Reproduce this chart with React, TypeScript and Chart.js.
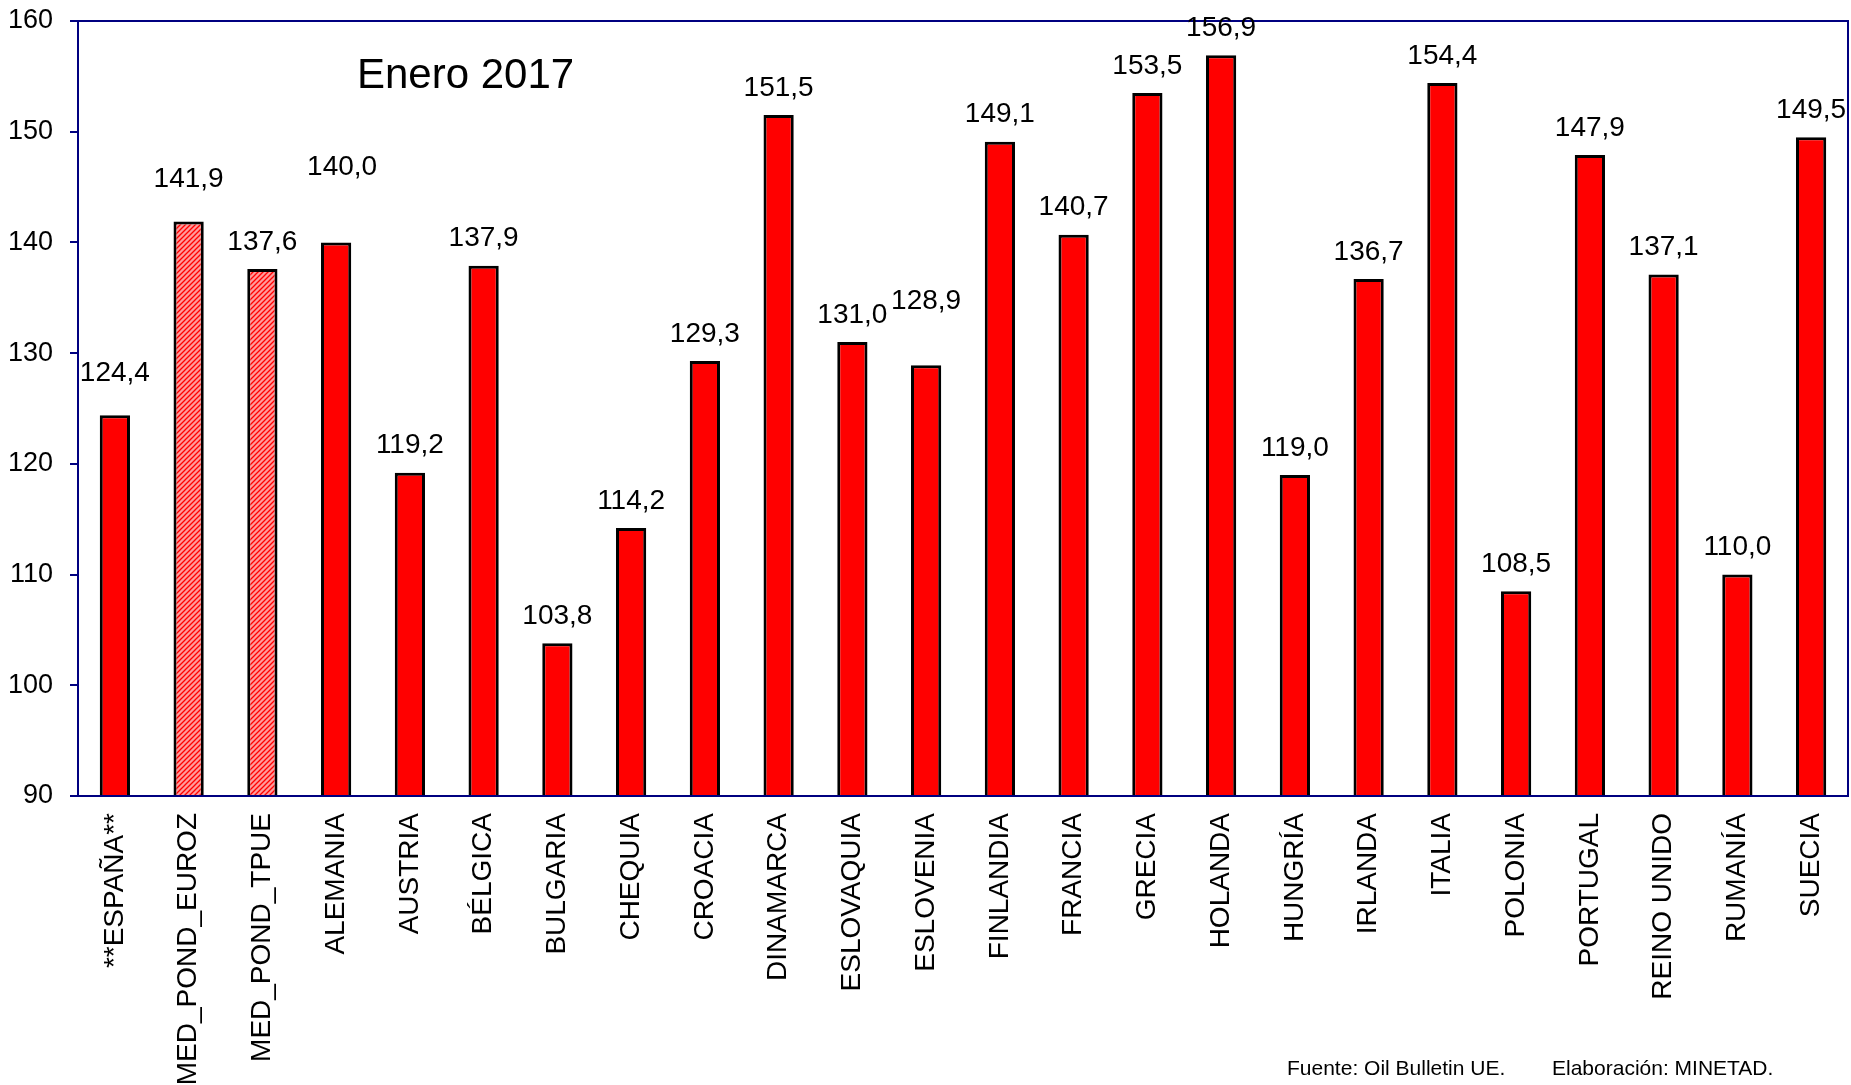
import React, { useEffect, useRef } from "react";
import { Chart, registerables } from "chart.js";

Chart.register(...registerables);

const categories = [
  "**ESPAÑA**", "MED_POND_EUROZ", "MED_POND_TPUE", "ALEMANIA", "AUSTRIA", "BÉLGICA",
  "BULGARIA", "CHEQUIA", "CROACIA", "DINAMARCA", "ESLOVAQUIA", "ESLOVENIA",
  "FINLANDIA", "FRANCIA", "GRECIA", "HOLANDA", "HUNGRÍA", "IRLANDA",
  "ITALIA", "POLONIA", "PORTUGAL", "REINO UNIDO", "RUMANÍA", "SUECIA",
];

const values = [
  124.4, 141.9, 137.6, 140.0, 119.2, 137.9,
  103.8, 114.2, 129.3, 151.5, 131.0, 128.9,
  149.1, 140.7, 153.5, 156.9, 119.0, 136.7,
  154.4, 108.5, 147.9, 137.1, 110.0, 149.5,
];

// Which categories are averages (drawn hatched)
const averageCategories = ["MED_POND_EUROZ", "MED_POND_TPUE"];

const yTicks = { min: 90, max: 160, step: 10 };

const titleText = "Enero 2017";
const sourceText = "Fuente: Oil Bulletin UE.";
const authorText = "Elaboración: MINETAD.";

// Manual label nudges (label placement like the original, in px)
const labelExtraLift: Record<number, number> = { 0: 15, 1: 15, 3: 48, 11: 37 };
const labelShiftX: Record<number, number> = { 3: 6 };

const FONT = "'Liberation Sans', Arial, Helvetica, sans-serif";
const NAVY = "#000080";

function makeHatch(): CanvasPattern | string {
  const s = 5;
  const c = document.createElement("canvas");
  c.width = s;
  c.height = s;
  const ctx = c.getContext("2d");
  if (!ctx) return "#ff8888";
  ctx.fillStyle = "#ff9a9a";
  ctx.fillRect(0, 0, s, s);
  ctx.strokeStyle = "#ff0000";
  ctx.lineWidth = 1.3;
  ctx.beginPath();
  ctx.moveTo(0, s);
  ctx.lineTo(s, 0);
  ctx.moveTo(-1, 1);
  ctx.lineTo(1, -1);
  ctx.moveTo(s - 1, s + 1);
  ctx.lineTo(s + 1, s - 1);
  ctx.stroke();
  const p = ctx.createPattern(c, "repeat");
  return p || "#ff8888";
}

const decorPlugin = {
  id: "decor",
  afterDraw(chart: any) {
    const { ctx, chartArea } = chart;
    ctx.save();
    // Plot frame
    ctx.strokeStyle = NAVY;
    ctx.lineWidth = 2;
    ctx.strokeRect(chartArea.left, chartArea.top, chartArea.right - chartArea.left, chartArea.bottom - chartArea.top);

    // Value labels
    const meta = chart.getDatasetMeta(0);
    ctx.fillStyle = "#000";
    ctx.font = `28px ${FONT}`;
    ctx.textAlign = "center";
    ctx.textBaseline = "middle";
    meta.data.forEach((bar: any, i: number) => {
      const v = values[i];
      const txt = v.toFixed(1).replace(".", ",");
      const lift = 27 + (labelExtraLift[i] || 0);
      const dx = labelShiftX[i] || 0;
      ctx.fillText(txt, bar.x + dx, bar.y - lift);
    });

    // Title
    ctx.font = `42px ${FONT}`;
    ctx.textAlign = "left";
    ctx.textBaseline = "alphabetic";
    ctx.fillText(titleText, chartArea.left + 279, chartArea.top + 67);

    // Source footer
    ctx.font = `21px ${FONT}`;
    ctx.fillText(sourceText, 1287, 1075);
    ctx.fillText(authorText, 1552, 1075);
    ctx.restore();
  },
};

export default function App() {
  const ref = useRef<HTMLCanvasElement | null>(null);

  useEffect(() => {
    document.body.style.margin = "0";
    const canvas = ref.current;
    if (!canvas) return;
    const hatch = makeHatch();
    const bg = categories.map((c) => (averageCategories.includes(c) ? hatch : "#ff0000"));

    const chart = new Chart(canvas, {
      type: "bar",
      data: {
        labels: categories,
        datasets: [
          {
            data: values,
            backgroundColor: bg as any,
            borderColor: "#000000",
            borderWidth: 3,
            borderSkipped: "bottom",
            categoryPercentage: 1,
            barPercentage: 0.41,
          },
        ],
      },
      options: {
        responsive: false,
        animation: false,
        devicePixelRatio: 1,
        layout: { padding: { top: 21, right: 3, left: 0, bottom: 0 } },
        plugins: {
          legend: { display: false },
          title: { display: false },
          tooltip: { enabled: false },
        },
        scales: {
          x: {
            grid: { display: false, drawTicks: false },
            border: { color: NAVY, width: 2 },
            ticks: {
              color: "#000",
              font: { family: FONT, size: 28 },
              minRotation: 90,
              maxRotation: 90,
              autoSkip: false,
              padding: 17,
            },
            afterFit(scale: any) {
              scale.height = 289;
              scale.paddingLeft = 0;
              scale.paddingRight = 0;
            },
          },
          y: {
            min: yTicks.min,
            max: yTicks.max,
            grid: { drawOnChartArea: false, color: NAVY, tickLength: 8, lineWidth: 2 },
            border: { color: NAVY, width: 2 },
            ticks: {
              stepSize: yTicks.step,
              color: "#000",
              font: { family: FONT, size: 27 },
              padding: 17,
            },
            afterFit(scale: any) {
              scale.width = 78;
              scale.paddingTop = 0;
              scale.paddingBottom = 0;
            },
          },
        },
      },
      plugins: [decorPlugin],
    });
    return () => chart.destroy();
  }, []);

  return (
    <div style={{ width: 1851, height: 1085, background: "#fff" }}>
      <canvas ref={ref} width={1851} height={1085} />
    </div>
  );
}
